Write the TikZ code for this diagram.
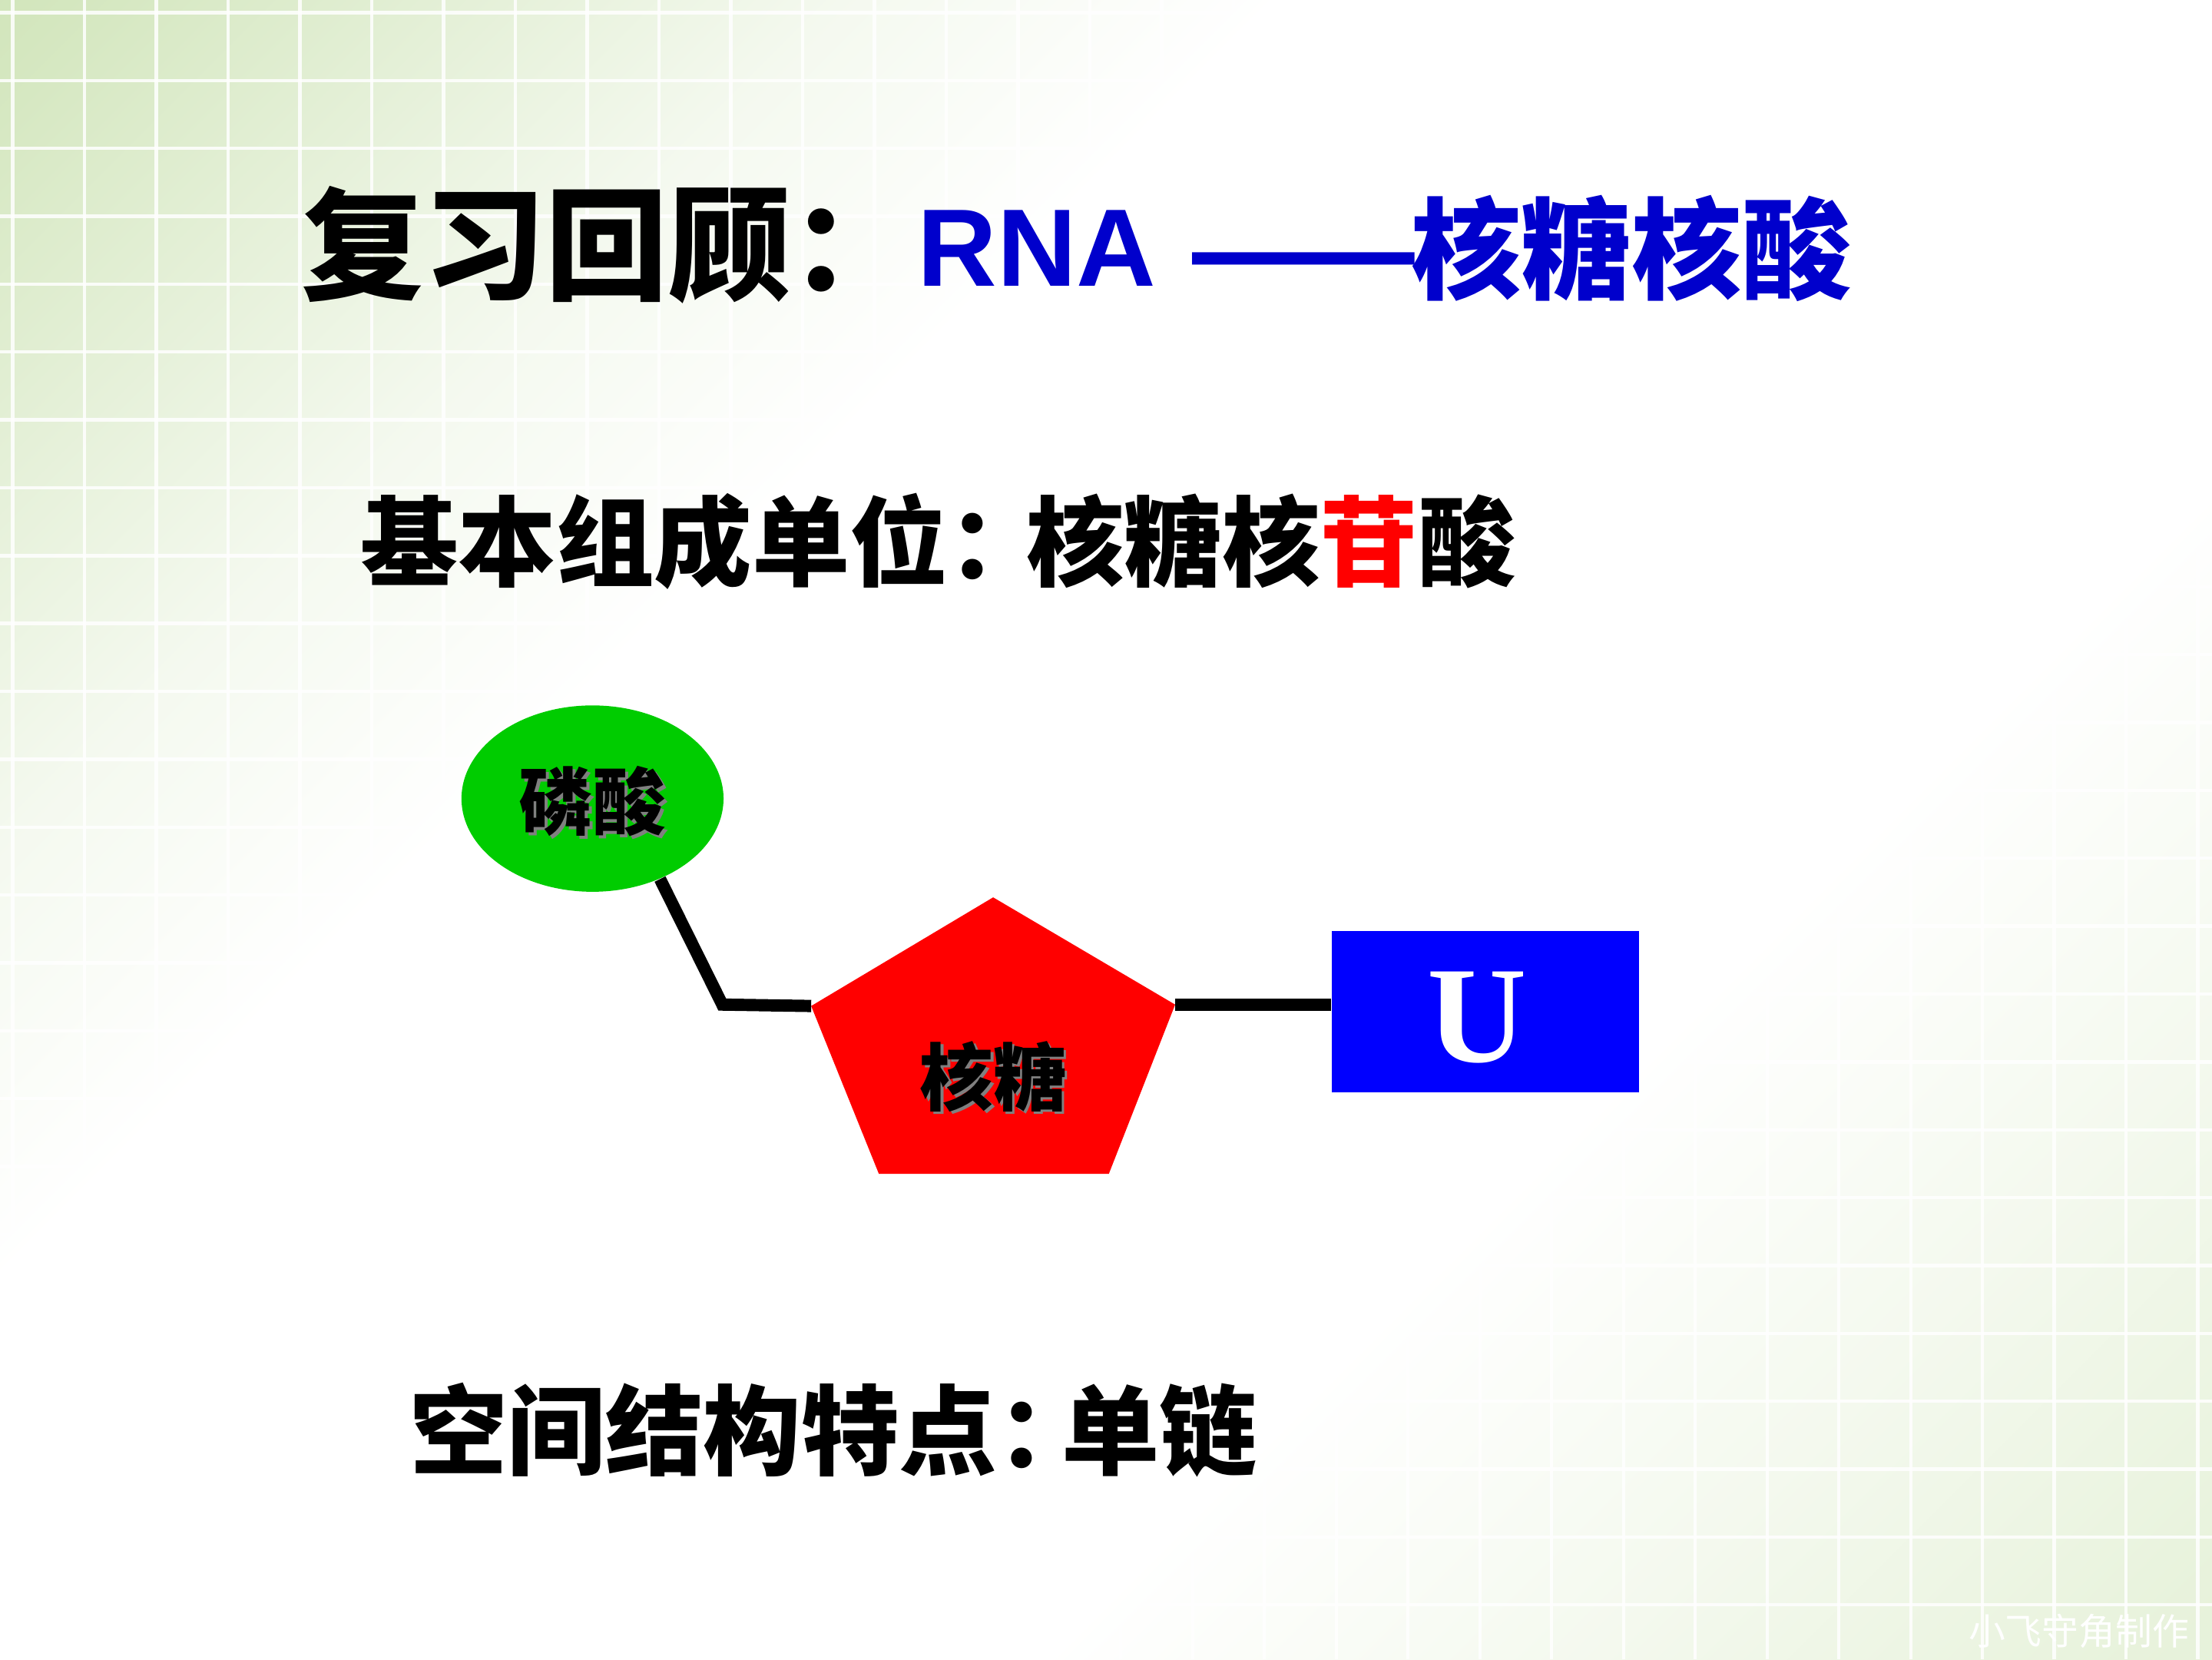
\documentclass[tikz,border=0pt]{standalone}
\usepackage{fontspec}
\usepackage{xcolor}
\usetikzlibrary{shapes.geometric}
\newfontfamily\hei{Noto Sans CJK SC}
\newfontfamily\arial{Liberation Sans}
\newfontfamily\tnr{Liberation Serif}
\definecolor{bgTL}{RGB}{202,225,176}
\definecolor{bgBR}{RGB}{224,238,208}
\colorlet{bgTLa}{bgTL!80!white}
\colorlet{bgTLb}{bgTL!50!white}
\colorlet{bgTLc}{bgTL!20!white}
\colorlet{bgBRa}{bgBR!75!white}
\colorlet{bgBRb}{bgBR!35!white}
\definecolor{rnablue}{RGB}{0,0,204}
\definecolor{phosgreen}{RGB}{0,204,0}
\definecolor{sugarred}{RGB}{255,0,0}
\definecolor{baseblue}{RGB}{0,0,255}
\pgfdeclareverticalshading{slidebg}{100bp}{color(0bp)=(bgBR); color(16bp)=(bgBRa); color(26bp)=(bgBRb); color(36bp)=(white); color(62bp)=(white); color(70bp)=(bgTLc); color(77bp)=(bgTLb); color(84bp)=(bgTLa); color(90bp)=(bgTL); color(100bp)=(bgTL)}
\tikzset{
    gridline/.style={white, line width=1.1pt, opacity=0.85},
    linker/.style={black, line width=4pt},
    titleblk/.style={anchor=base west, inner sep=0pt, font=\hei\bfseries\fontsize{40pt}{40pt}\selectfont},
    titleblu/.style={anchor=base west, inner sep=0pt, text=rnablue, font=\hei\bfseries\fontsize{36pt}{36pt}\selectfont},
    rnatxt/.style={anchor=base west, inner sep=0pt, text=rnablue, font=\arial\bfseries\fontsize{36pt}{36pt}\selectfont},
    bodytxt/.style={anchor=base west, inner sep=0pt, font=\hei\bfseries\fontsize{32pt}{32pt}\selectfont},
    lbl/.style={inner sep=0pt, font=\hei\bfseries\fontsize{24pt}{24pt}\selectfont},
    signtxt/.style={anchor=base east, inner sep=0pt, text=white, font=\hei\fontsize{12pt}{12pt}\selectfont}
}
\begin{document}
\begin{tikzpicture}[x=0.0162cm, y=-0.0162cm]
    \def\gx{50.9}
    \def\gy{48.1}
    \useasboundingbox (0,0) rectangle (1568,1176);
    % background
    \fill[white] (0,0) rectangle (1568,1176);
    \shade[shading=slidebg, shading angle=45] (0,0) rectangle (1568,1176);
    \begin{scope}
        \clip (0,0) -- (1568,0) -- (0,1176) -- cycle;
        \foreach \i in {0,...,30} \draw[gridline] ({9+\i*\gx},0) -- ({9+\i*\gx},1176);
        \foreach \j in {0,...,24} \draw[gridline] (0,{9+\j*\gy}) -- (1568,{9+\j*\gy});
    \end{scope}
    \begin{scope}
        \clip (1568,0) -- (1568,1176) -- (0,1176) -- cycle;
        \foreach \i in {0,...,30} \draw[gridline] ({1558-\i*\gx},0) -- ({1558-\i*\gx},1176);
        \foreach \j in {-18,...,7} \draw[gridline] (0,{848.8+\j*\gy}) -- (1568,{848.8+\j*\gy});
    \end{scope}
    % title
    \node[titleblk] (ttl) at (213,206) {复习回顾：};
    \node[rnatxt] (ttlrna) at (650,203) {RNA};
    \node[titleblu] (ttldash) at (840,206) {\scalebox{1.25}[1]{——}};
    \node[titleblu] (ttlname) at (1000,206) {核糖核酸};
    \node[bodytxt] (unitA) at (255,410) {基本组成单位：};
    \node[bodytxt] (unitB) at (727,410) {核糖核\textcolor{red}{苷}酸};
    % nucleotide
    \node[ellipse, fill=phosgreen, minimum width=3.01cm, minimum height=2.14cm, inner sep=0pt] (phos) at (420,566) {};
    \node[lbl, text=gray] (phosshd) at (422,570) {磷酸};
    \node[lbl] (phostxt) at (420,568) {磷酸};
    \coordinate (sTop) at (704,636);
    \coordinate (sUL) at (575,713);
    \coordinate (sUR) at (833,712);
    \coordinate (sLR) at (786,832);
    \coordinate (sLL) at (623,832);
    \fill[sugarred] (sTop) -- (sUR) -- (sLR) -- (sLL) -- (sUL) -- cycle;
    \node[lbl, text=gray] (sugarshd) at (706,765) {核糖};
    \node[lbl] (sugar) at (704,763) {核糖};
    \node[fill=baseblue, minimum width=3.53cm, minimum height=1.85cm, inner sep=0pt] (ubox) at (1053,717) {};
    \node[text=white, inner sep=0pt, font=\tnr\bfseries\fontsize{45pt}{45pt}\selectfont] (ubase) at (1047,721) {U};
    \coordinate (kink) at (512,712);
    \draw[linker] (phos.-50) -- (kink) -- (sUL);
    \draw[linker] (sUR) -- (sUR -| ubox.west);
    % structure
    \node[bodytxt] (shapeA) at (290,1040) {空间结构特点：};
    \node[bodytxt] (shapeB) at (752,1040) {单链};
    \node[signtxt] (sign) at (1552,1166) {小飞守角制作};
\end{tikzpicture}
\end{document}
